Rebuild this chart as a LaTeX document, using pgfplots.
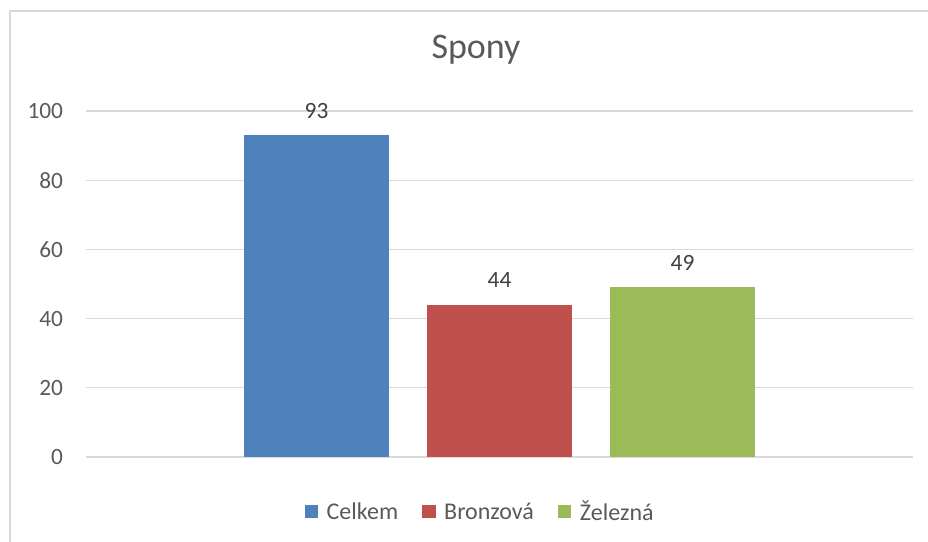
\documentclass[border=0pt]{standalone}
\usepackage{fontspec}
\setmainfont{Carlito}
\usepackage{pgfplots}
\pgfplotsset{compat=1.18}
\definecolor{cblue}{HTML}{4F81BD}
\definecolor{cred}{HTML}{C0504D}
\definecolor{cgreen}{HTML}{9BBB59}
\definecolor{ctext}{HTML}{595959}
\definecolor{clabel}{HTML}{404040}
\definecolor{cgrid}{HTML}{D9D9D9}
\begin{document}
\begin{tikzpicture}
\path[use as bounding box] (-64.5pt,-63.75pt) rectangle (631.5pt,342.75pt);
\draw[cgrid, line width=1.3pt] (-57pt,-80pt) -- (-57pt,334.5pt) -- (660pt,334.5pt);
\begin{axis}[
  scale only axis,
  width=620.25pt, height=259.5pt,
  xmin=-0.2596, xmax=4.2596,
  ymin=0, ymax=100,
  ytick={0,20,40,60,80,100},
  xtick=\empty,
  axis line style={draw=none},
  major tick length=0pt,
  ymajorgrids,
  grid style={cgrid, line width=1pt},
  /pgf/number format/assume math mode=true,
  yticklabel style={font=\fontsize{17.5}{20}\selectfont, text=ctext, anchor=east, inner sep=0pt, xshift=-17pt},
  title={Spony},
  title style={font=\fontsize{27}{32}\selectfont, text=ctext, at={(axis description cs:0.4716,1.128)}, anchor=base, inner sep=0pt},
  nodes near coords,
  every node near coord/.append style={font=\fontsize{17.5}{20}\selectfont, text=clabel, anchor=base, inner sep=0pt, yshift=12.75pt},
  legend columns=3,
  legend style={draw=none, fill=none, font=\fontsize{18}{20}\selectfont, text=ctext,
    at={(axis description cs:0.477,-0.159)}, anchor=center,
    /tikz/every even column/.append style={column sep=16pt}},
  legend image code/.code={\fill[#1] (0pt,-4.5pt) rectangle (10pt,5.5pt); \path (14.5pt,0pt);},
]
\addplot[ybar, bar width=0.792, fill=cblue, draw=none] coordinates {(1,93)};
\addplot[ybar, bar width=0.792, fill=cred, draw=none] coordinates {(2,44)};
\addplot[ybar, bar width=0.792, fill=cgreen, draw=none] coordinates {(3,49)};
\legend{Celkem, Bronzová, Železná}
\end{axis}
\end{tikzpicture}
\end{document}
